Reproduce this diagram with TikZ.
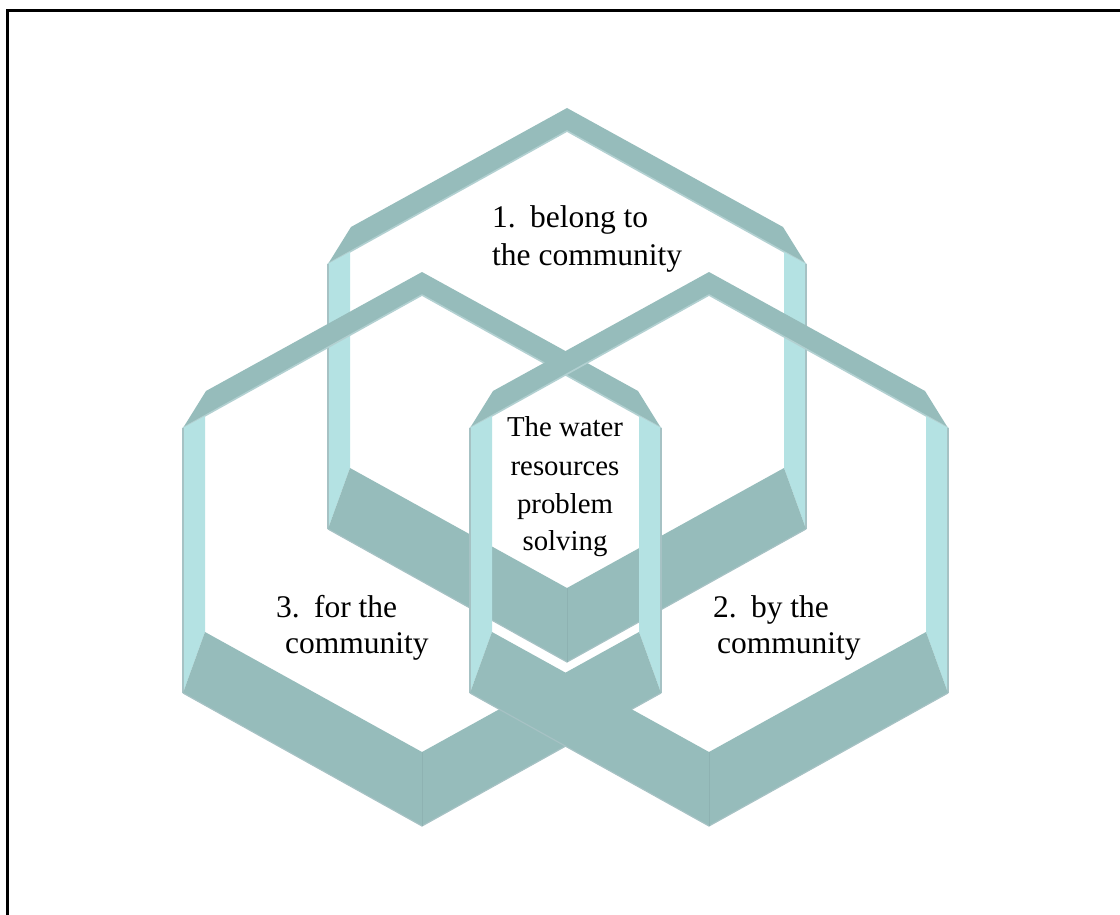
\documentclass[tikz,border=0pt]{standalone}
\usepackage{fontspec}
\setmainfont{Liberation Serif}
\definecolor{bandc}{HTML}{96BCBB}
\definecolor{stripc}{HTML}{B4E2E3}
\definecolor{hlc}{HTML}{B2D0D1}
\definecolor{edgec}{HTML}{A6C2C4}
\definecolor{seamc}{HTML}{8EB2B2}
\tikzset{
  band/.style={fill=bandc},
  stripface/.style={fill=stripc},
  hiline/.style={draw=hlc,line width=1.6pt,line join=round},
  edgeline/.style={draw=edgec,line width=1.2pt,line join=round},
  seamline/.style={draw=seamc,line width=0.6pt},
  hexlabel/.style={inner sep=0pt,font=\fontsize{31.5}{37}\selectfont},
  midlabel/.style={inner sep=0pt,anchor=base,font=\fontsize{28.8}{38}\selectfont},
}
\newcommand\hexring[2]{%
  \begin{scope}[shift={(#1,#2)}]
    % top band
    \fill[band] (0,0) -- (-216,119) -- (-239,156) -- (0,23) -- (239,156) -- (216,119) -- cycle;
    \draw[hiline] (-239,156) -- (0,23) -- (239,156);
    % side strips
    \fill[stripface] (-239,156) -- (-217,144) -- (-217,360) -- (-239,421) -- cycle;
    \fill[stripface] (239,156) -- (217,144) -- (217,360) -- (239,421) -- cycle;
    \draw[edgeline] (-239,156) -- (-239,421);
    \draw[edgeline] (239,156) -- (239,421);
    % bottom band
    \fill[band] (-217,360) -- (0,480) -- (217,360) -- (239,421) -- (0,554) -- (-239,421) -- cycle;
    \draw[edgeline] (-239,421) -- (0,554) -- (239,421);
    \draw[seamline] (0,480) -- (0,554);
  \end{scope}}
\begin{document}
\begin{tikzpicture}[x=1pt,y=-1pt]
  \useasboundingbox (0,0) rectangle (1120,915);
  \fill[white] (0,0) rectangle (1120,915);
  \draw[line width=3pt,line join=miter] (7.5,915) -- (7.5,10.3) -- (1120,10.3);
  % rings, from back to front
  \hexring{567}{108}
  \hexring{422}{272}
  \hexring{709}{272}
  % labels
  \node[hexlabel,anchor=base west] (l1a) at (492,228) {1.\hspace{0.12em} belong to};
  \node[hexlabel,anchor=base west] (l1b) at (492,265) {the community};
  \node[hexlabel,anchor=base west] (l3a) at (276,617) {3.\hspace{0.12em} for the};
  \node[hexlabel,anchor=base west] (l3b) at (285,653) {community};
  \node[hexlabel,anchor=base west] (l2a) at (713,617) {2.\hspace{0.12em} by the};
  \node[hexlabel,anchor=base west] (l2b) at (717,653) {community};
  \node[midlabel] (m1) at (565,436) {The water};
  \node[midlabel] (m2) at (565,475) {resources};
  \node[midlabel] (m3) at (565,513) {problem};
  \node[midlabel] (m4) at (565,550) {solving};
\end{tikzpicture}
\end{document}
